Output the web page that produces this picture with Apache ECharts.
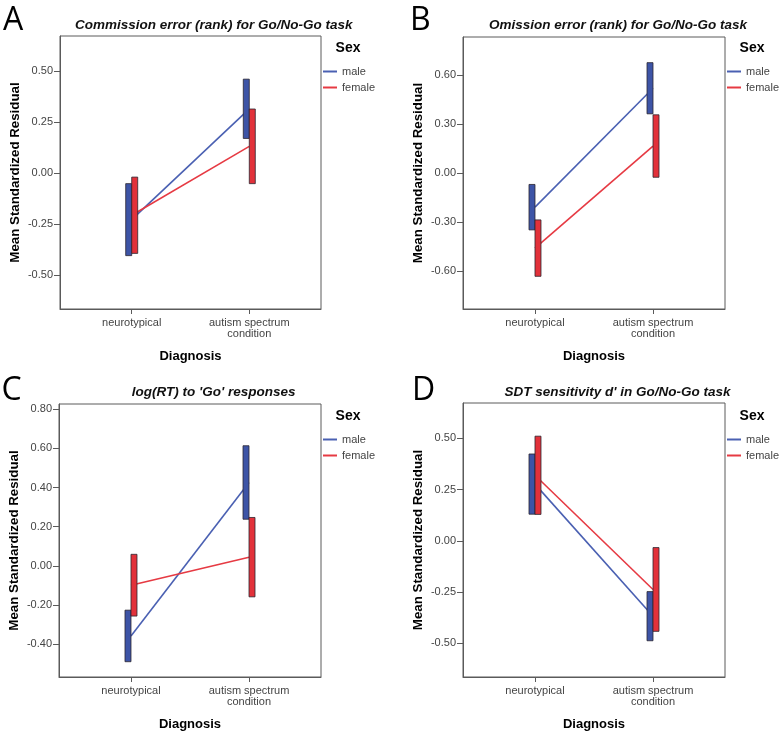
<!DOCTYPE html>
<html>
<head>
<meta charset="utf-8">
<script src="https://cdn.jsdelivr.net/npm/echarts@6/dist/echarts.min.js"></script>
<style>
html,body{margin:0;padding:0;background:#fff;}
#chart{width:781px;height:734px;}
</style>
</head>
<body>
<div id="chart"></div>
<script>
// ---- data ----
const categories = ['neurotypical', 'autism spectrum\ncondition'];
const sexes = ['male', 'female'];
const panelLetters = ['A', 'B', 'C', 'D'];
const panelTitles = [
  'Commission error (rank) for Go/No-Go task',
  'Omission error (rank) for Go/No-Go task',
  "log(RT) to 'Go' responses",
  "SDT sensitivity d' in Go/No-Go task"
];
const yAxisTitle = 'Mean Standardized Residual';
const xAxisTitle = 'Diagnosis';
const legendTitle = 'Sex';

// Panel A: Commission error
const commissionMaleLow = [-0.404, 0.169];
const commissionMaleHigh = [-0.052, 0.459];
const commissionFemaleLow = [-0.393, -0.052];
const commissionFemaleHigh = [-0.020, 0.313];
const commissionTicks = [-0.50, -0.25, 0.00, 0.25, 0.50];
const commissionRange = [-0.665, 0.67];

// Panel B: Omission error
const omissionMaleLow = [-0.346, 0.364];
const omissionMaleHigh = [-0.068, 0.677];
const omissionFemaleLow = [-0.630, -0.024];
const omissionFemaleHigh = [-0.285, 0.358];
const omissionTicks = [-0.60, -0.30, 0.00, 0.30, 0.60];
const omissionRange = [-0.83, 0.834];

// Panel C: log(RT)
const rtMaleLow = [-0.489, 0.238];
const rtMaleHigh = [-0.226, 0.613];
const rtFemaleLow = [-0.256, -0.158];
const rtFemaleHigh = [0.059, 0.247];
const rtTicks = [-0.40, -0.20, 0.00, 0.20, 0.40, 0.60, 0.80];
const rtRange = [-0.567, 0.826];

// Panel D: SDT sensitivity d'
const dprimeMaleLow = [0.130, -0.488];
const dprimeMaleHigh = [0.424, -0.248];
const dprimeFemaleLow = [0.129, -0.442];
const dprimeFemaleHigh = [0.511, -0.033];
const dprimeTicks = [-0.50, -0.25, 0.00, 0.25, 0.50];
const dprimeRange = [-0.665, 0.673];

// ---- layout / style ----
const panels = [
  {ml: commissionMaleLow, mh: commissionMaleHigh, fl: commissionFemaleLow, fh: commissionFemaleHigh, ticks: commissionTicks, range: commissionRange,
   grid: {left: 60, top: 36, width: 261, height: 273}, letter: [3, 20.5], title: [213.7, 25], sex: [348, 48.5], legend: [323, 65]},
  {ml: omissionMaleLow, mh: omissionMaleHigh, fl: omissionFemaleLow, fh: omissionFemaleHigh, ticks: omissionTicks, range: omissionRange,
   grid: {left: 463, top: 37, width: 262, height: 272}, letter: [410, 20.5], title: [618, 25], sex: [752, 48.5], legend: [727, 65]},
  {ml: rtMaleLow, mh: rtMaleHigh, fl: rtFemaleLow, fh: rtFemaleHigh, ticks: rtTicks, range: rtRange,
   grid: {left: 59, top: 404, width: 262, height: 273}, letter: [1.5, 390.5], title: [213.7, 392], sex: [348, 416], legend: [323, 433]},
  {ml: dprimeMaleLow, mh: dprimeMaleHigh, fl: dprimeFemaleLow, fh: dprimeFemaleHigh, ticks: dprimeTicks, range: dprimeRange,
   grid: {left: 463, top: 403, width: 262, height: 274}, letter: [412, 390.5], title: [617.5, 392], sex: [752, 416], legend: [727, 433]}
];

const blueBar = '#3d54a6', redBar = '#e2313a';
const blueLine = '#4a60b2', redLine = '#e63a43';
const barW = 6;
const labelFont = 'Liberation Sans, Arial, sans-serif';

const grids = [], xAxes = [], yAxes = [], series = [], legends = [], graphics = [];

function barSeries(name, idx, low, high, color, side) {
  return {
    type: 'custom', name: name, xAxisIndex: idx, yAxisIndex: idx, z: 5,
    itemStyle: {color: color},
    encode: {x: 0, y: [1, 2]},
    data: low.map((v, i) => [i, v, high[i]]),
    renderItem: function (params, api) {
      const p1 = api.coord([api.value(0), api.value(2)]);
      const p2 = api.coord([api.value(0), api.value(1)]);
      const x = side < 0 ? p1[0] - barW : p1[0];
      return {
        type: 'rect',
        shape: {x: x, y: p1[1], width: barW, height: p2[1] - p1[1]},
        style: {fill: color, stroke: '#2b2630', lineWidth: 0.8}
      };
    }
  };
}

panels.forEach((p, idx) => {
  grids.push(Object.assign({show: true, borderColor: '#5a5a5a', borderWidth: 1, containLabel: false}, p.grid));
  xAxes.push({
    type: 'value', gridIndex: idx, min: -0.61, max: 1.61,
    splitLine: {show: false},
    axisLine: {show: true, onZero: false, lineStyle: {color: '#5a5a5a'}},
    axisTick: {show: true, length: 5, customValues: [0, 1], lineStyle: {color: '#5a5a5a'}},
    axisLabel: {customValues: [0, 1], formatter: v => categories[Math.round(v)] || '',
      fontFamily: labelFont, fontSize: 11, color: '#444', lineHeight: 11, margin: 8},
    name: xAxisTitle, nameLocation: 'middle', nameGap: 41,
    nameTextStyle: {fontFamily: labelFont, fontSize: 13, fontWeight: 'bold', color: '#000'}
  });
  yAxes.push({
    type: 'value', gridIndex: idx, min: p.range[0], max: p.range[1],
    splitLine: {show: false},
    axisLine: {show: true, onZero: false, lineStyle: {color: '#5a5a5a'}},
    axisTick: {show: true, length: 6, customValues: p.ticks, lineStyle: {color: '#5a5a5a'}},
    axisLabel: {customValues: p.ticks, formatter: v => v.toFixed(2),
      fontFamily: labelFont, fontSize: 11, color: '#444', margin: 7},
    name: yAxisTitle, nameLocation: 'middle', nameGap: 38, nameRotate: 90,
    nameTextStyle: {fontFamily: labelFont, fontSize: 13.3, fontWeight: 'bold', color: '#000'}
  });
  const maleMean = p.ml.map((v, i) => (v + p.mh[i]) / 2);
  const femaleMean = p.fl.map((v, i) => (v + p.fh[i]) / 2);
  series.push({
    type: 'line', name: 'male', xAxisIndex: idx, yAxisIndex: idx, z: 2,
    symbol: 'none', color: blueLine, lineStyle: {color: blueLine, width: 1.6},
    data: maleMean.map((v, i) => [i, v])
  });
  series.push({
    type: 'line', name: 'female', xAxisIndex: idx, yAxisIndex: idx, z: 2,
    symbol: 'none', color: redLine, lineStyle: {color: redLine, width: 1.6},
    data: femaleMean.map((v, i) => [i, v])
  });
  series.push(barSeries('male', idx, p.ml, p.mh, blueBar, -1));
  series.push(barSeries('female', idx, p.fl, p.fh, redBar, 1));

  legends.push({
    left: p.legend[0], top: p.legend[1], orient: 'vertical', padding: 0,
    icon: 'rect', itemWidth: 14, itemHeight: 2, itemGap: 3,
    selectedMode: false,
    data: sexes,
    textStyle: {fontFamily: labelFont, fontSize: 11, color: '#444', lineHeight: 13}
  });

  graphics.push({
    type: 'text', x: p.letter[0], y: p.letter[1],
    style: {text: panelLetters[idx], font: '32px "Open Sans", "DejaVu Sans", sans-serif', fill: '#000',
      textAlign: 'left', textVerticalAlign: 'middle', align: 'left', verticalAlign: 'middle'}
  });
  graphics.push({
    type: 'text', x: p.title[0], y: p.title[1],
    style: {text: panelTitles[idx], font: 'italic bold 13.5px "Liberation Sans", Arial, sans-serif', fill: '#111',
      textAlign: 'center', textVerticalAlign: 'middle', align: 'center', verticalAlign: 'middle'}
  });
  graphics.push({
    type: 'text', x: p.sex[0], y: p.sex[1],
    style: {text: legendTitle, font: 'bold 14px "Liberation Sans", Arial, sans-serif', fill: '#000',
      textAlign: 'center', textVerticalAlign: 'middle', align: 'center', verticalAlign: 'middle'}
  });
});

const chart = echarts.init(document.getElementById('chart'), null, {renderer: 'canvas'});
chart.setOption({
  animation: false,
  backgroundColor: '#fff',
  grid: grids, xAxis: xAxes, yAxis: yAxes,
  legend: legends,
  series: series,
  graphic: graphics
});
</script>
</body>
</html>
